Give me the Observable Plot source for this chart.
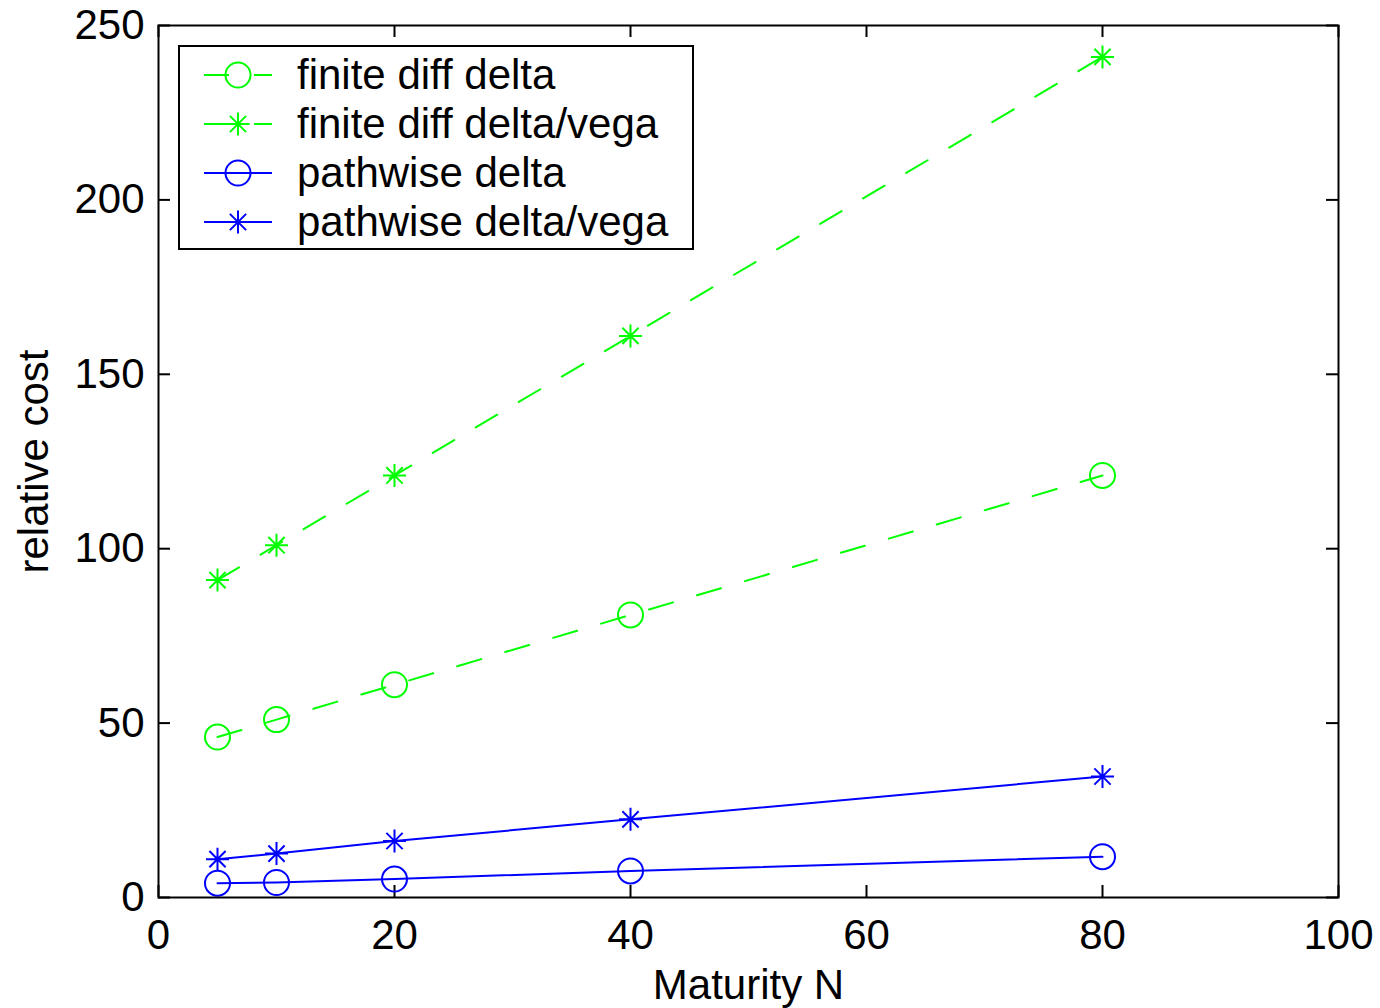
<!DOCTYPE html>
<html>
<head>
<meta charset="utf-8">
<script src="https://cdn.jsdelivr.net/npm/d3@7"></script>
<script src="https://cdn.jsdelivr.net/npm/@observablehq/plot@0.6"></script>
<style>
  html, body { margin: 0; padding: 0; background: #fff; }
  #wrap { position: relative; width: 1380px; height: 1008px; font-family: "Liberation Sans", Arial, Helvetica, sans-serif; }
  #wrap svg { display: block; }
  #legend { position: absolute; left: 0; top: 0; }
</style>
</head>
<body>
<div id="wrap"></div>
<script>
// ---- data ----
const maturity = [5, 10, 20, 40, 80];
const fdDelta = [46, 51, 61, 81, 121];
const fdDeltaVega = [91, 101, 121, 161, 241];
const pwDelta = [4.1, 4.3, 5.3, 7.6, 11.7];
const pwDeltaVega = [11.0, 12.6, 16.2, 22.4, 34.7];
const seriesNames = ["finite diff delta", "finite diff delta/vega", "pathwise delta", "pathwise delta/vega"];
const seriesColors = ["#00ff00", "#00ff00", "#0000ff", "#0000ff"];
const seriesMarkers = ["circle", "asterisk", "circle", "asterisk"];
const seriesDashed = [true, true, false, false];
const xTicks = [0, 20, 40, 60, 80, 100];
const yTicks = [0, 50, 100, 150, 200, 250];
const xLabel = "Maturity N";
const yLabel = "relative cost";

const seriesValues = [fdDelta, fdDeltaVega, pwDelta, pwDeltaVega];
const rows = seriesNames.flatMap((name, s) =>
  maturity.map((m, i) => ({ series: name, s, x: m, y: seriesValues[s][i] })));

// MATLAB-style '*' marker (plus + x)
const matlabAsterisk = {
  draw(ctx, size) {
    const r = Math.sqrt(size / Math.PI);
    const d = r * Math.SQRT1_2;
    ctx.moveTo(-r, 0); ctx.lineTo(r, 0);
    ctx.moveTo(0, -r); ctx.lineTo(0, r);
    ctx.moveTo(-d, -d); ctx.lineTo(d, d);
    ctx.moveTo(-d, d); ctx.lineTo(d, -d);
  }
};

const W = 1380, H = 1008;
const mL = 158, mR = 42, mT = 25, mB = 111;
const fw = W - mL - mR, fh = H - mT - mB;
const tickLen = 12;
const FONT = 42;

const marks = [];
seriesNames.forEach((name, s) => {
  const data = rows.filter(d => d.s === s);
  marks.push(Plot.line(data, {
    x: "x", y: "y", stroke: seriesColors[s], strokeWidth: 2,
    strokeDasharray: seriesDashed[s] ? "25,25" : null
  }));
  marks.push(Plot.dot(data, {
    x: "x", y: "y", stroke: seriesColors[s], fill: "none", strokeWidth: 2,
    r: seriesMarkers[s] === "circle" ? 12.5 : 11.5,
    symbol: seriesMarkers[s] === "circle" ? "circle" : matlabAsterisk
  }));
});

const svg = Plot.plot({
  width: W, height: H,
  marginLeft: mL, marginRight: mR, marginTop: mT, marginBottom: mB,
  style: { fontFamily: '"Liberation Sans", Arial, Helvetica, sans-serif', background: "#fff", color: "#000" },
  x: { domain: [0, 100] },
  y: { domain: [0, 250] },
  marks: [
    // inward ticks on all four sides
    Plot.tickX(xTicks, { x: d => d, insetTop: fh - tickLen, stroke: "#000", strokeWidth: 2 }),
    Plot.tickX(xTicks, { x: d => d, insetBottom: fh - tickLen, stroke: "#000", strokeWidth: 2 }),
    Plot.tickY(yTicks, { y: d => d, insetRight: fw - tickLen, stroke: "#000", strokeWidth: 2 }),
    Plot.tickY(yTicks, { y: d => d, insetLeft: fw - tickLen, stroke: "#000", strokeWidth: 2 }),
    Plot.axisX({ ticks: xTicks, tickSize: 0, tickPadding: 22, fontSize: FONT, label: null, tickFormat: d => String(d) }),
    Plot.axisY({ ticks: yTicks, tickSize: 0, tickPadding: 14, fontSize: FONT, label: null, tickFormat: d => String(d) }),
    Plot.text([xLabel], { text: d => d, frameAnchor: "bottom", dy: 88, fontSize: FONT, fill: "#000", lineAnchor: "middle", textAnchor: "middle" }),
    Plot.text([yLabel], { text: d => d, frameAnchor: "left", dx: -124, rotate: -90, fontSize: FONT, fill: "#000", lineAnchor: "middle", textAnchor: "middle" }),
    ...marks,
    Plot.frame({ stroke: "#000", strokeWidth: 2 })
  ]
});

const wrap = document.getElementById("wrap");
wrap.appendChild(svg);

// ---- legend overlay (inside the axes, top-left, MATLAB style) ----
const leg = d3.create("svg").attr("id", "legend").attr("width", W).attr("height", 270);
const box = { x: 179, y: 46, w: 514, h: 203 };
leg.append("rect").attr("x", box.x).attr("y", box.y).attr("width", box.w).attr("height", box.h)
  .attr("fill", "#fff").attr("stroke", "#000").attr("stroke-width", 2);
const rowY0 = 75, rowStep = 49;
const lineX0 = 204, lineX1 = 272, markX = 238, textX = 297;
seriesNames.forEach((name, s) => {
  const y = rowY0 + s * rowStep;
  leg.append("line").attr("x1", lineX0).attr("x2", lineX1).attr("y1", y).attr("y2", y)
    .attr("stroke", seriesColors[s]).attr("stroke-width", 2)
    .attr("stroke-dasharray", seriesDashed[s] ? "25,25" : null);
  const r = seriesMarkers[s] === "circle" ? 12.5 : 11.5;
  const sym = seriesMarkers[s] === "circle" ? d3.symbolCircle : matlabAsterisk;
  leg.append("path").attr("transform", `translate(${markX},${y})`)
    .attr("d", d3.symbol(sym, Math.PI * r * r)())
    .attr("fill", "none").attr("stroke", seriesColors[s]).attr("stroke-width", 2);
  leg.append("text").attr("x", textX).attr("y", y).attr("dy", "0.34em")
    .attr("font-size", FONT).attr("fill", "#000")
    .attr("font-family", '"Liberation Sans", Arial, Helvetica, sans-serif')
    .text(name);
});
wrap.appendChild(leg.node());
</script>
</body>
</html>
